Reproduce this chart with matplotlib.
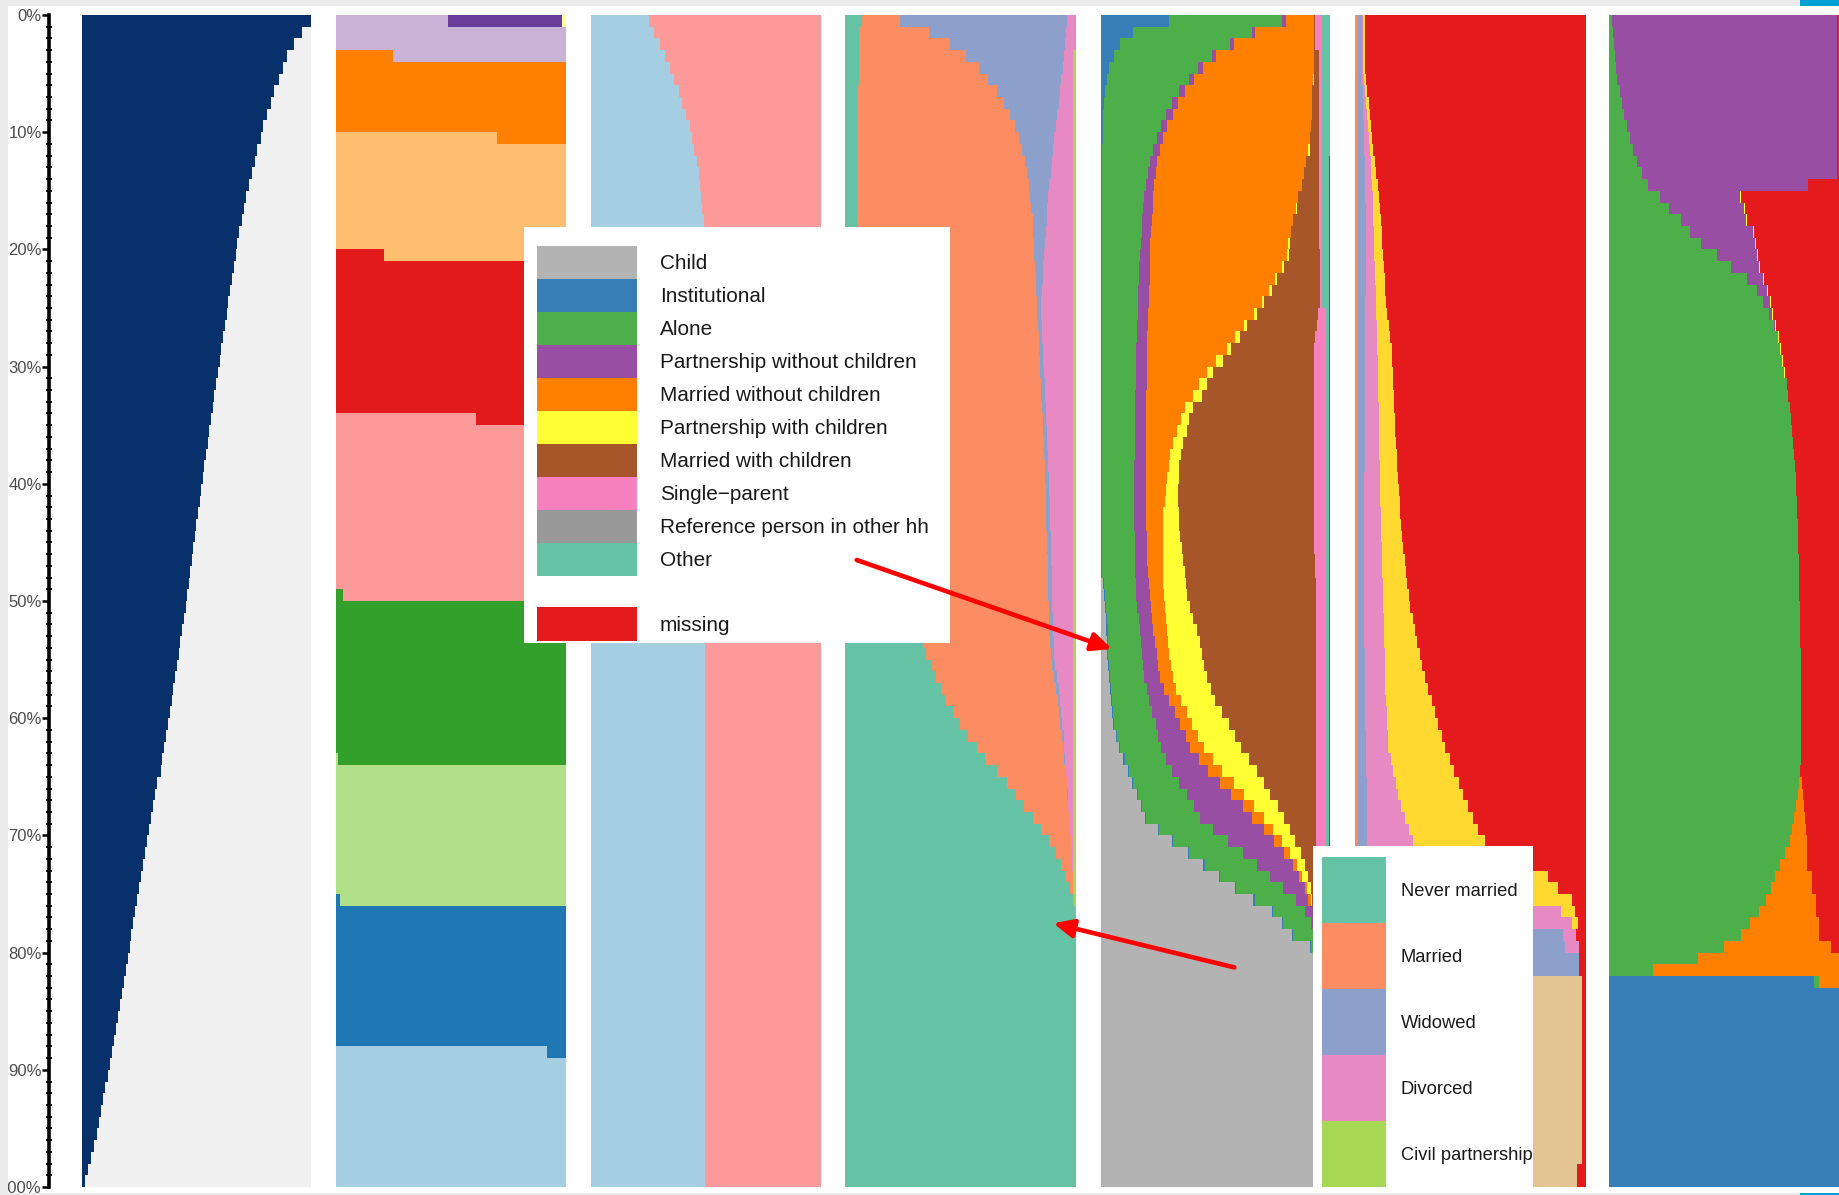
import numpy as np
import matplotlib
matplotlib.use("Agg")
import matplotlib.pyplot as plt
from matplotlib.patches import Rectangle, FancyArrowPatch

# ---------------------------------------------------------------- data
ROWS = np.arange(100)

# panel 1 : share in navy per row
p1_navy = [
 1.000, 0.959, 0.926, 0.897, 0.876, 0.862, 0.840, 0.824, 0.807, 0.792,
 0.780, 0.766, 0.754, 0.741, 0.728, 0.718, 0.708, 0.699, 0.686, 0.679,
 0.674, 0.666, 0.657, 0.647, 0.640, 0.632, 0.624, 0.617, 0.609, 0.601,
 0.594, 0.586, 0.579, 0.572, 0.564, 0.556, 0.549, 0.542, 0.535, 0.528,
 0.521, 0.514, 0.507, 0.500, 0.494, 0.487, 0.480, 0.474, 0.467, 0.460,
 0.454, 0.446, 0.438, 0.430, 0.423, 0.415, 0.407, 0.400, 0.392, 0.384,
 0.376, 0.368, 0.360, 0.352, 0.344, 0.329, 0.320, 0.311, 0.302, 0.293,
 0.284, 0.276, 0.267, 0.258, 0.249, 0.240, 0.231, 0.222, 0.215, 0.209,
 0.200, 0.192, 0.186, 0.176, 0.167, 0.160, 0.151, 0.141, 0.132, 0.123,
 0.115, 0.103, 0.094, 0.084, 0.075, 0.065, 0.052, 0.039, 0.026, 0.014]

# panel 2 : bands (first row of band on the left part, x of the step in that row)
p2_band_colors = ["#cab2d6", "#ff7f00", "#fdbf6f", "#e31a1c", "#fb9a99",
                  "#33a02c", "#b2df8a", "#1f78b4", "#a6cee3"]
p2_band_first_row = [0, 3, 10, 20, 34, 49, 63, 75, 88]
p2_band_step_x = [0.0, 0.248, 0.70, 0.21, 0.609, 0.03, 0.01, 0.02, 0.92]
p2_row0_colors = ["#cab2d6", "#6a3d9a", "#ffff99"]
p2_row0_edges = [0.487, 0.985, 1.0]

# panel 3 : light-blue share per row
p3_blue = [0.252, 0.277, 0.303, 0.323, 0.343, 0.364, 0.384, 0.399, 0.414, 0.430,
           0.440, 0.450, 0.461, 0.471, 0.476, 0.481, 0.486, 0.491] + [0.496] * 82

# panel 4 : marital status, cumulative right edges
p4_never = [0.072] + [0.062] * 5 + [0.058] * 11 + [0.054] * 36 + [
 0.339, 0.350, 0.375, 0.394, 0.414, 0.436, 0.469,
 0.498, 0.534, 0.570, 0.607, 0.659, 0.700, 0.739, 0.776, 0.812, 0.847,
 0.883, 0.912, 0.935, 0.957, 0.974, 0.989, 0.995] + [1.0] * 23
p4_married = [
 0.238, 0.365, 0.455, 0.524, 0.582, 0.619, 0.657, 0.688, 0.714, 0.736,
 0.755, 0.765, 0.779, 0.786, 0.795, 0.801, 0.806, 0.812, 0.815, 0.818,
 0.820, 0.823, 0.826, 0.829, 0.831, 0.833, 0.835, 0.838, 0.840, 0.843,
 0.845, 0.848, 0.850, 0.853, 0.855, 0.858, 0.860, 0.862, 0.864, 0.866,
 0.868, 0.870, 0.871, 0.872, 0.874, 0.875, 0.877, 0.878, 0.879, 0.880,
 0.882, 0.883, 0.885, 0.887, 0.890, 0.897, 0.905, 0.912, 0.920, 0.925,
 0.931, 0.938, 0.945, 0.950, 0.955, 0.959, 0.963, 0.967, 0.970, 0.974,
 0.978, 0.981, 0.984, 0.986, 0.988, 0.990, 0.995] + [1.0] * 23
p4_widowed = [
 0.960, 0.956, 0.952, 0.947, 0.942, 0.936, 0.930, 0.925, 0.919, 0.912,
 0.906, 0.901, 0.896, 0.890, 0.884, 0.880, 0.876, 0.873, 0.870, 0.865,
 0.861, 0.858, 0.855, 0.851, 0.847, 0.849, 0.851, 0.854, 0.856, 0.859,
 0.861, 0.864, 0.866, 0.869, 0.871, 0.874, 0.876, 0.878, 0.880, 0.882,
 0.884, 0.886, 0.887, 0.888, 0.890, 0.891, 0.893, 0.894, 0.895, 0.896,
 0.898, 0.899, 0.901, 0.903, 0.905, 0.911, 0.918, 0.925, 0.932, 0.936,
 0.941, 0.946, 0.950, 0.953, 0.957, 0.960, 0.964, 0.967, 0.970, 0.974,
 0.978, 0.981, 0.984, 0.986, 0.988, 0.990, 0.995] + [1.0] * 23
p4_divorced = [1.0] * 3 + [0.987] * 73 + [1.0] * 24

# panel 5 : household type, cumulative right edges
p5_child = [0.0] * 48 + [0.008, 0.015,
 0.020, 0.023, 0.025, 0.027, 0.029, 0.032, 0.036, 0.040, 0.045, 0.050,
 0.055, 0.065, 0.080, 0.099, 0.118, 0.137, 0.157, 0.175, 0.193, 0.250,
 0.309, 0.380, 0.448, 0.517, 0.586, 0.666, 0.746, 0.790, 0.833, 0.913] + [1.0] * 20
p5_inst = [0.298, 0.142, 0.084, 0.058, 0.036, 0.026, 0.019, 0.014, 0.012, 0.012,
 0.010] + [0.007] * 20 + [0.005] * 17 + [0.013, 0.020,
 0.025, 0.028, 0.030, 0.032, 0.034, 0.037, 0.041, 0.045, 0.050, 0.055,
 0.060, 0.070, 0.085, 0.104, 0.123, 0.142, 0.162, 0.180, 0.198, 0.255,
 0.314, 0.385, 0.453, 0.522, 0.591, 0.671, 0.751, 0.795, 0.838, 0.918] + [1.0] * 20
p5_alone = [
 0.792, 0.658, 0.564, 0.485, 0.426, 0.385, 0.342, 0.309, 0.285, 0.262,
 0.244, 0.227, 0.215, 0.205, 0.196, 0.190, 0.186, 0.182, 0.178, 0.174,
 0.171, 0.168, 0.167, 0.164, 0.163, 0.161, 0.159, 0.157, 0.156, 0.154,
 0.153, 0.152, 0.151, 0.150, 0.150, 0.149, 0.148, 0.148, 0.147, 0.147,
 0.147, 0.147, 0.147, 0.147, 0.148, 0.149, 0.150, 0.151, 0.153, 0.156,
 0.160, 0.165, 0.170, 0.175, 0.179, 0.183, 0.190, 0.200, 0.210, 0.225,
 0.240, 0.250, 0.262, 0.285, 0.310, 0.340, 0.375, 0.405, 0.433, 0.490,
 0.553, 0.620, 0.680, 0.740, 0.796, 0.850, 0.890, 0.915, 0.925, 0.930] + [1.0] * 20
p5_pwoc = [
 0.807, 0.673, 0.581, 0.505, 0.448, 0.407, 0.368, 0.335, 0.314, 0.291,
 0.272, 0.257, 0.247, 0.239, 0.232, 0.228, 0.226, 0.222, 0.220, 0.217,
 0.215, 0.213, 0.213, 0.210, 0.209, 0.207, 0.205, 0.204, 0.203, 0.202,
 0.201, 0.200, 0.199, 0.198, 0.198, 0.197, 0.196, 0.196, 0.196, 0.196,
 0.196, 0.197, 0.198, 0.199, 0.200, 0.202, 0.204, 0.206, 0.209, 0.213,
 0.218, 0.224, 0.230, 0.236, 0.244, 0.251, 0.259, 0.275, 0.297, 0.325,
 0.345, 0.370, 0.390, 0.430, 0.470, 0.520, 0.570, 0.620, 0.660, 0.710,
 0.755, 0.800, 0.840, 0.865, 0.890, 0.905, 0.925, 0.930, 0.930, 0.930] + [1.0] * 20
p5_mwoc = [
 0.930, 0.930, 0.930, 0.930, 0.930, 0.925, 0.923, 0.923, 0.920, 0.917,
 0.913, 0.905, 0.895, 0.888, 0.879, 0.862, 0.852, 0.840, 0.828, 0.818,
 0.811, 0.789, 0.760, 0.734, 0.702, 0.668, 0.625, 0.586, 0.549, 0.503,
 0.462, 0.430, 0.404, 0.368, 0.349, 0.334, 0.317, 0.302, 0.296, 0.291,
 0.285, 0.280, 0.273, 0.270, 0.270, 0.270, 0.270, 0.270, 0.273, 0.276,
 0.280, 0.284, 0.288, 0.293, 0.298, 0.305, 0.315, 0.330, 0.350, 0.375,
 0.400, 0.425, 0.450, 0.490, 0.530, 0.580, 0.625, 0.670, 0.710, 0.750,
 0.790, 0.825, 0.855, 0.880, 0.900, 0.915, 0.925, 0.930, 0.930, 0.930] + [1.0] * 20
p5_pwc = [
 0.930, 0.930, 0.930, 0.930, 0.930, 0.931, 0.923, 0.923, 0.920, 0.917,
 0.913, 0.911, 0.895, 0.888, 0.879, 0.862, 0.858, 0.840, 0.830, 0.825,
 0.821, 0.801, 0.770, 0.746, 0.714, 0.680, 0.637, 0.606, 0.568, 0.532,
 0.490, 0.462, 0.440, 0.404, 0.387, 0.375, 0.360, 0.349, 0.343, 0.340,
 0.338, 0.338, 0.340, 0.343, 0.346, 0.353, 0.360, 0.368, 0.372, 0.378,
 0.389, 0.404, 0.418, 0.433, 0.440, 0.450, 0.462, 0.480, 0.500, 0.530,
 0.560, 0.585, 0.610, 0.645, 0.680, 0.710, 0.740, 0.775, 0.800, 0.825,
 0.848, 0.872, 0.893, 0.906, 0.916, 0.922, 0.928, 0.930, 0.930, 0.930] + [1.0] * 20
p5_mwc = ([0.935] * 3 + [0.953] * 17 + [0.955] * 5 + [0.948, 0.942, 0.936, 0.932]
          + [0.930] * 17 + [0.933, 0.936] + [0.937] * 11 + [0.940] * 13
          + [0.935, 0.932] + [0.930] * 6 + [1.0] * 20)
p5_single = [0.967] * 25 + [0.982] * 55 + [1.0] * 20
p5_ref = [0.967] * 25 + [0.984] * 55 + [1.0] * 20
p5_other = [1.0] * 12 + [0.996] * 68 + [1.0] * 20

# panel 6 : marital status 2, cumulative right edges
p6_never = [0.0] * 5 + [0.004] * 77 + [0.0] * 18
p6_married = [0.012] * 82 + [0.0] * 18
p6_widowed = [
 0.029, 0.029, 0.029, 0.029, 0.029, 0.031, 0.033, 0.034, 0.036, 0.038,
 0.040, 0.041, 0.042, 0.043, 0.044, 0.045, 0.046, 0.046, 0.046, 0.046,
 0.046, 0.046, 0.046, 0.046, 0.045, 0.045, 0.045, 0.045, 0.044, 0.044,
 0.044, 0.044, 0.043, 0.043, 0.043, 0.042, 0.042, 0.042, 0.042, 0.041,
 0.041, 0.041, 0.041, 0.040, 0.040, 0.040, 0.040, 0.040, 0.040, 0.040,
 0.040, 0.040, 0.041, 0.041, 0.042, 0.042, 0.043, 0.043, 0.043, 0.044,
 0.045, 0.046, 0.047, 0.048, 0.049, 0.050, 0.051, 0.051, 0.051, 0.051,
 0.051, 0.053, 0.055, 0.057, 0.060, 0.065, 0.070, 0.080, 0.900, 0.909,
 0.969, 0.969] + [0.0] * 18
p6_divorced = [
 0.036, 0.036, 0.036, 0.036, 0.036, 0.040, 0.044, 0.048, 0.052, 0.056,
 0.060, 0.064, 0.068, 0.071, 0.074, 0.076, 0.078, 0.080, 0.081, 0.083,
 0.084, 0.086, 0.088, 0.090, 0.092, 0.093, 0.095, 0.096, 0.097, 0.098,
 0.099, 0.100, 0.101, 0.102, 0.103, 0.104, 0.105, 0.106, 0.107, 0.108,
 0.109, 0.110, 0.111, 0.113, 0.114, 0.115, 0.116, 0.118, 0.120, 0.121,
 0.123, 0.124, 0.125, 0.127, 0.128, 0.129, 0.131, 0.132, 0.134, 0.137,
 0.139, 0.141, 0.144, 0.155, 0.166, 0.177, 0.188, 0.200, 0.215, 0.235,
 0.253, 0.300, 0.400, 0.500, 0.600, 0.750, 0.894, 0.939, 0.960, 0.969,
 0.969, 0.969] + [0.0] * 18
p6_yellow = [
 0.043, 0.043, 0.043, 0.043, 0.043, 0.047, 0.053, 0.062, 0.066, 0.070,
 0.075, 0.080, 0.087, 0.093, 0.098, 0.103, 0.107, 0.111, 0.116, 0.118,
 0.120, 0.125, 0.128, 0.130, 0.135, 0.140, 0.146, 0.152, 0.159, 0.162,
 0.164, 0.166, 0.168, 0.170, 0.172, 0.173, 0.176, 0.180, 0.183, 0.187,
 0.190, 0.193, 0.197, 0.201, 0.205, 0.210, 0.215, 0.220, 0.225, 0.232,
 0.240, 0.250, 0.260, 0.270, 0.280, 0.292, 0.305, 0.318, 0.332, 0.346,
 0.360, 0.375, 0.390, 0.410, 0.430, 0.450, 0.470, 0.490, 0.510, 0.535,
 0.563, 0.660, 0.760, 0.835, 0.879, 0.939, 0.954, 0.966, 0.960, 0.969,
 0.969, 0.969] + [0.0] * 18
p6_beige = [0.0] * 82 + [0.986] * 16 + [0.961] * 2

# panel 7 : cumulative right edges
p7_blue = [0.0] * 82 + [0.891] + [1.0] * 17
p7_green = [
 0.012, 0.016, 0.022, 0.026, 0.030, 0.036, 0.048, 0.055, 0.065, 0.077,
 0.091, 0.106, 0.120, 0.142, 0.171, 0.222, 0.262, 0.312, 0.352, 0.398,
 0.470, 0.530, 0.600, 0.642, 0.671, 0.696, 0.717, 0.733, 0.743, 0.752,
 0.762, 0.772, 0.780, 0.786, 0.791, 0.796, 0.800, 0.804, 0.808, 0.811,
 0.814, 0.816, 0.818, 0.820, 0.822, 0.823, 0.825, 0.826, 0.827, 0.828,
 0.829, 0.830, 0.831, 0.832, 0.833, 0.833, 0.834, 0.834, 0.835, 0.835,
 0.835, 0.835, 0.834, 0.833, 0.830, 0.826, 0.820, 0.812, 0.805, 0.795,
 0.786, 0.764, 0.742, 0.722, 0.704, 0.682, 0.652, 0.615, 0.573, 0.502,
 0.388, 0.193, 0.913] + [1.0] * 17
p7_purple = [0.993] * 13 + [0.990, 0.867, 0.570, 0.587, 0.596, 0.626, 0.635,
 0.643, 0.653, 0.671, 0.688, 0.700, 0.710, 0.722, 0.735] + [0.0] * 72
p7_orange = [0.0] * 65 + [0.840, 0.845, 0.848, 0.852, 0.856, 0.861, 0.861, 0.861,
 0.884, 0.884, 0.898, 0.898, 0.913, 0.913, 0.966, 1.0, 1.0, 1.0] + [0.0] * 17
p7_yellow = [0.0] * 15 + [0.574, 0.591, 0.600, 0.630, 0.639, 0.647, 0.657, 0.675,
 0.692, 0.704, 0.714, 0.726, 0.739, 0.747, 0.756, 0.765] + [0.0] * 69

# legends
hh_labels = ["Child", "Institutional", "Alone", "Partnership without children",
             "Married without children", "Partnership with children",
             "Married with children", "Single\u2212parent",
             "Reference person in other hh", "Other"]
hh_colors = ["#b3b3b3", "#377eb8", "#4daf4a", "#984ea3", "#ff7f00", "#ffff33",
             "#a65628", "#f781bf", "#999999", "#66c2a5"]
missing_label, missing_color = "missing", "#e41a1c"
ms_labels = ["Never married", "Married", "Widowed", "Divorced", "Civil partnership"]
ms_colors = ["#66c2a5", "#fc8d62", "#8da0cb", "#e78ac3", "#a6d854"]
pct_ticks = list(range(0, 101, 10))

# ---------------------------------------------------------------- figure
W, H = 1839, 1195
fig = plt.figure(figsize=(W / 100, H / 100), dpi=100, facecolor="white")

TOP, BOT = 15, 1187
panel_left = [81.7, 335.7, 590.7, 845.0, 1100.7, 1355.0, 1609.0]
panel_width = [229.3, 230.0, 230.0, 231.0, 229.3, 230.7, 230.0]


def make_ax(i):
    ax = fig.add_axes([panel_left[i] / W, (H - BOT) / H,
                       panel_width[i] / W, (BOT - TOP) / H])
    ax.set_xlim(0, 1)
    ax.set_ylim(100, 0)
    for s in ax.spines.values():
        s.set_visible(False)
    ax.set_xticks([])
    ax.set_yticks([])
    return ax


def draw_stacked(ax, colors, edges):
    E = np.clip(np.array(edges, dtype=float), 0, 1)
    E = np.maximum.accumulate(E, axis=0)
    lefts = np.vstack([np.zeros(E.shape[1]), E])
    rights = np.vstack([E, np.ones(E.shape[1])])
    for k, c in enumerate(colors):
        w = rights[k] - lefts[k]
        m = w > 1e-9
        ax.barh(ROWS[m] + 0.5, w[m], left=lefts[k][m], height=1.0,
                color=c, linewidth=0, antialiased=False)


axes = [make_ax(i) for i in range(7)]

# panel 1
draw_stacked(axes[0], ["#08306b", "#f0f0f0"], [p1_navy])

# panel 2
ax2 = axes[1]
ax2.barh(0.5, np.diff([0] + p2_row0_edges), left=[0] + p2_row0_edges[:-1],
         height=1.0, color=p2_row0_colors, linewidth=0, antialiased=False)
for k in range(1, len(p2_band_colors)):
    r = p2_band_first_row[k]
    s = p2_band_step_x[k]
    ax2.barh(r + 0.5, s, left=0, height=1.0, color=p2_band_colors[k],
             linewidth=0, antialiased=False)
    ax2.barh(r + 0.5, 1 - s, left=s, height=1.0, color=p2_band_colors[k - 1],
             linewidth=0, antialiased=False)
for k in range(len(p2_band_colors)):
    start = p2_band_first_row[k] + 1
    end = p2_band_first_row[k + 1] if k + 1 < len(p2_band_first_row) else 100
    rr = np.arange(start, end)
    ax2.barh(rr + 0.5, np.ones(len(rr)), left=0, height=1.0,
             color=p2_band_colors[k], linewidth=0, antialiased=False)

# panel 3
draw_stacked(axes[2], ["#a6cee3", "#fb9a99"], [p3_blue])

# panel 4
draw_stacked(axes[3], ms_colors, [p4_never, p4_married, p4_widowed, p4_divorced])

# panel 5
draw_stacked(axes[4], hh_colors + [missing_color],
             [p5_child, p5_inst, p5_alone, p5_pwoc, p5_mwoc, p5_pwc, p5_mwc,
              p5_single, p5_ref, p5_other])

# panel 6
draw_stacked(axes[5], ["#66c2a5", "#fc8d62", "#8da0cb", "#e78ac3", "#ffd92f",
                       "#e5c494", "#e41a1c"],
             [p6_never, p6_married, p6_widowed, p6_divorced, p6_yellow, p6_beige])

# panel 7
draw_stacked(axes[6], ["#377eb8", "#4daf4a", "#984ea3", "#ff7f00", "#ffff33",
                       "#e41a1c"],
             [p7_blue, p7_green, p7_purple, p7_orange, p7_yellow])

# y axis on panel 1
ax1 = axes[0]
sp = ax1.spines["left"]
sp.set_visible(True)
sp.set_position(("outward", 23.5))
sp.set_linewidth(2.6)
sp.set_color("black")
ax1.set_yticks(pct_ticks)
ax1.set_yticklabels([f"{v}%" for v in pct_ticks], fontfamily="Liberation Sans",
                    fontsize=12, color="#4d4d4d")
ax1.set_yticks(range(0, 101), minor=True)
ax1.tick_params(axis="y", which="major", direction="out", length=5, width=1.8,
                pad=0.3, color="black")
ax1.tick_params(axis="y", which="minor", direction="inout", length=4, width=1.4,
                color="black")

# ---------------------------------------------------------------- overlay
ov = fig.add_axes([0, 0, 1, 1], zorder=10)
ov.set_xlim(0, W)
ov.set_ylim(H, 0)
ov.axis("off")
ov.patch.set_alpha(0)

LEG_FONT = ["Liberation Sans Narrow", "Liberation Sans", "DejaVu Sans"]

# legend 1
ov.add_patch(Rectangle((524, 226.7), 426, 416.3, facecolor="white", edgecolor="none"))
leg1_texts = []
for i, (lab, col) in enumerate(zip(hh_labels, hh_colors)):
    y0 = 245.7 + 33.0 * i
    ov.add_patch(Rectangle((536.7, y0), 100, 33.0, facecolor=col, edgecolor="none"))
    leg1_texts.append(ov.text(660, y0 + 17.5, lab, va="center", ha="left",
                              fontsize=16, family=LEG_FONT, color="#1a1a1a"))
ov.add_patch(Rectangle((536.7, 606.7), 100, 34.0, facecolor=missing_color,
                       edgecolor="none"))
leg1_texts.append(ov.text(660, 625, missing_label, va="center", ha="left",
                          fontsize=16, family=LEG_FONT, color="#1a1a1a"))

# legend 2
ov.add_patch(Rectangle((1312.7, 846), 220.3, 350, facecolor="white", edgecolor="none"))
leg2_texts = []
for i, (lab, col) in enumerate(zip(ms_labels, ms_colors)):
    y0 = 856.7 + 66.0 * i
    ov.add_patch(Rectangle((1322, y0), 63.7, 66.0, facecolor=col, edgecolor="none"))
    leg2_texts.append(ov.text(1400.7, y0 + 35, lab, va="center", ha="left",
                              fontsize=16, family=LEG_FONT, color="#1a1a1a"))

# fit legend label sizes to the widths seen in the reference
fig.canvas.draw()
rend = fig.canvas.get_renderer()
for texts, target in ((leg1_texts, 269.0), (leg2_texts, 131.7)):
    wmax = max(t.get_window_extent(rend).width for t in texts)
    size = texts[0].get_fontsize() * target / wmax
    for t in texts:
        t.set_fontsize(size)

# arrows
for (x0, y0), (x1, y1) in (((856.7, 560.0), (1112.0, 649.0)),
                           ((1234.3, 967.4), (1053.3, 923.3))):
    ov.add_patch(FancyArrowPatch((x0, y0), (x1, y1),
                                 arrowstyle="-|>,head_length=12,head_width=5.5",
                                 mutation_scale=1, color="#ff0000", lw=3.3,
                                 shrinkA=0, shrinkB=0))

# screenshot border strips
BORDER = "#ebebeb"
ov.add_patch(Rectangle((0, 0), 8.3, H, facecolor=BORDER, edgecolor="none"))
ov.add_patch(Rectangle((0, 0), W, 5.7, facecolor=BORDER, edgecolor="none"))
ov.add_patch(Rectangle((0, 1192.5), W, 3, facecolor=BORDER, edgecolor="none"))
ov.add_patch(Rectangle((1800, 0), 39, 5.7, facecolor="#00a0d0", edgecolor="none"))
ov.add_patch(Rectangle((1800, 1192.5), 39, 3, facecolor="#00a0d0", edgecolor="none"))

fig.savefig("out.png", dpi=100, facecolor="white")
